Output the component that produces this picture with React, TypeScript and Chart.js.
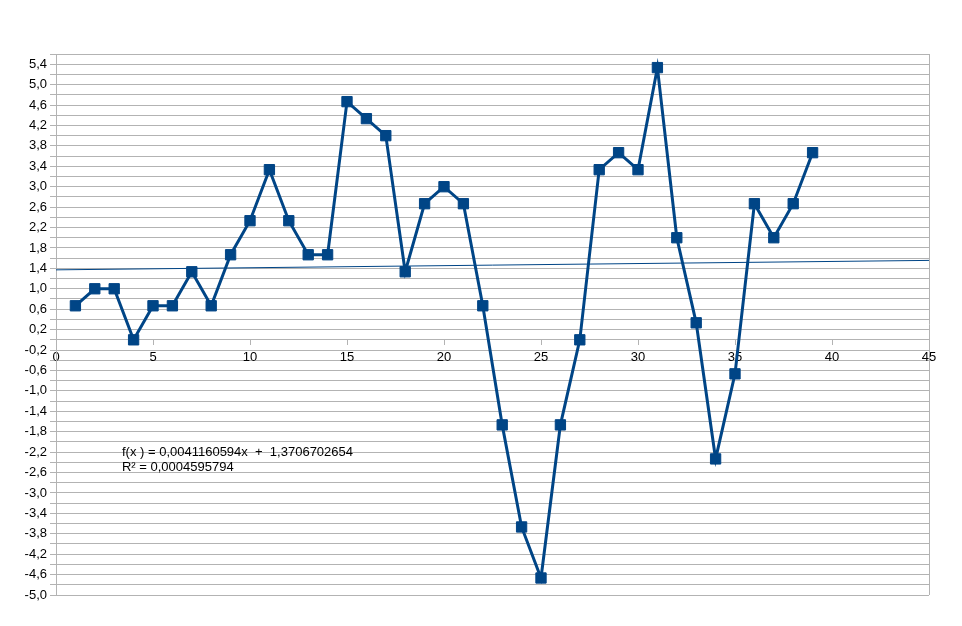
import React, { useEffect, useRef } from "react";
import { Chart, registerables } from "chart.js";

Chart.register(...registerables);

const xValues = [
  1, 2, 3, 4, 5, 6, 7, 8, 9, 10, 11, 12, 13, 14, 15, 16, 17, 18, 19, 20,
  21, 22, 23, 24, 25, 26, 27, 28, 29, 30, 31, 32, 33, 34, 35, 36, 37, 38, 39,
];
const yValues = [
  0.6667, 1.0, 1.0, 0.0, 0.6667, 0.6667, 1.3333, 0.6667, 1.6667, 2.3333,
  3.3333, 2.3333, 1.6667, 1.6667, 4.6667, 4.3333, 4.0, 1.3333, 2.6667, 3.0,
  2.6667, 0.6667, -1.6667, -3.6667, -4.6667, -1.6667, 0.0, 3.3333, 3.6667, 3.3333,
  5.3333, 2.0, 0.3333, -2.3333, -0.6667, 2.6667, 2.0, 2.6667, 3.6667,
];
const trendSlope = 0.0041160594;
const trendIntercept = 1.3706702654;
const trendX = [0, 45];
const equationLines = [
  "f(x ) = 0,0041160594x  +  1,3706702654",
  "R² = 0,0004595794",
];
const equationAnchor = { x: 3.4, y: -2.2 };

const xMin = 0;
const xMax = 45;
const xStep = 5;
const yMin = -5.0;
const yMax = 5.6;
const yStep = 0.2;

const BLUE = "#004586";
const GRID = "#b3b3b3";
const FONT = "'Liberation Sans', Arial, sans-serif";

export default function App() {
  const ref = useRef<HTMLCanvasElement | null>(null);

  useEffect(() => {
    if (!ref.current) return;
    const equationPlugin = {
      id: "equation",
      afterDatasetsDraw(chart: any) {
        const { ctx, scales } = chart;
        const px = scales.x.getPixelForValue(equationAnchor.x);
        const py = scales.y.getPixelForValue(equationAnchor.y);
        ctx.save();
        ctx.font = `13px ${FONT}`;
        ctx.fillStyle = "#000000";
        ctx.textAlign = "left";
        ctx.textBaseline = "middle";
        equationLines.forEach((line, i) => {
          ctx.fillText(line, px, py + i * 15);
        });
        ctx.restore();
      },
    };

    const chart = new Chart(ref.current, {
      type: "line",
      data: {
        datasets: [
          {
            label: "data",
            data: xValues.map((x, i) => ({ x, y: yValues[i] })),
            borderColor: BLUE,
            backgroundColor: BLUE,
            borderWidth: 3,
            pointStyle: "rect",
            pointRadius: 7.3,
            pointBorderWidth: 1,
            pointBorderColor: BLUE,
            pointBackgroundColor: BLUE,
            tension: 0,
            order: 0,
          },
          {
            label: "trend",
            data: trendX.map((x) => ({ x, y: trendSlope * x + trendIntercept })),
            borderColor: BLUE,
            borderWidth: 1,
            pointRadius: 0,
            tension: 0,
            order: 1,
          },
        ],
      },
      options: {
        animation: false,
        responsive: false,
        layout: { padding: { top: 54, right: 33, bottom: 31, left: 0 } },
        plugins: {
          legend: { display: false },
          tooltip: { enabled: false },
          title: { display: false },
        },
        scales: {
          x: {
            type: "linear",
            position: { y: 0 } as any,
            min: xMin,
            max: xMax,
            ticks: {
              stepSize: xStep,
              color: "#000000",
              font: { family: FONT, size: 13 },
              padding: 5,
              maxRotation: 0,
            },
            grid: {
              drawOnChartArea: true,
              color: (c: any) => (c.tick && c.tick.value === xMax ? GRID : "rgba(0,0,0,0)"),
              tickColor: GRID,
              tickLength: 5,
              lineWidth: 1,
            },
            border: { display: true, color: GRID, width: 1 },
          },
          y: {
            type: "linear",
            min: yMin,
            max: yMax,
            afterFit: (s: any) => {
              s.width = 56;
            },
            ticks: {
              stepSize: yStep,
              autoSkip: false,
              color: "#000000",
              font: { family: FONT, size: 13 },
              padding: 3,
              callback: (v: any) => {
                const idx = Math.round((Number(v) - yMin) / yStep);
                if (idx % 2 !== 0) return "";
                const val = Math.round(Number(v) * 10) / 10;
                return val.toFixed(1).replace(".", ",");
              },
            },
            grid: {
              color: GRID,
              tickColor: GRID,
              tickLength: 6,
              lineWidth: 1,
            },
            border: { display: true, color: GRID, width: 1 },
          },
        },
      },
      plugins: [equationPlugin],
    });
    return () => chart.destroy();
  }, []);

  return (
    <div style={{ position: "absolute", left: 0, top: 0, width: 962, height: 626, background: "#ffffff" }}>
      <canvas ref={ref} width={962} height={626} style={{ width: 962, height: 626 }} />
    </div>
  );
}
